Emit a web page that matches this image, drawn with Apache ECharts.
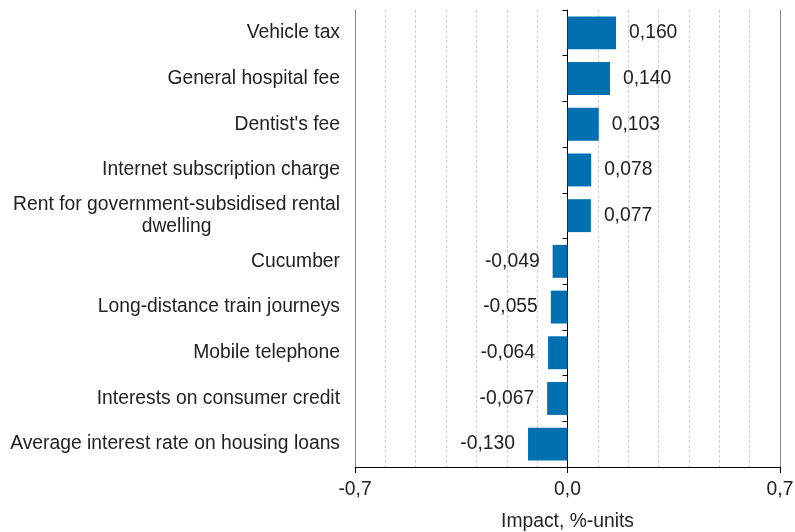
<!DOCTYPE html>
<html>
<head>
<meta charset="utf-8">
<script src="https://cdn.jsdelivr.net/npm/echarts@6/dist/echarts.min.js"></script>
<style>
  html, body { margin: 0; padding: 0; background: #fff; }
  #chart { width: 795px; height: 532px; }
</style>
</head>
<body>
<div id="chart"></div>
<script>
var categories = [
    'Vehicle tax',
    'General hospital fee',
    "Dentist's fee",
    'Internet subscription charge',
    'Rent for government-subsidised rental\ndwelling',
    'Cucumber',
    'Long-distance train journeys',
    'Mobile telephone',
    'Interests on consumer credit',
    'Average interest rate on housing loans'
];
var impact = [0.160, 0.140, 0.103, 0.078, 0.077, -0.049, -0.055, -0.064, -0.067, -0.130];
var xMin = -0.7;
var xMax = 0.7;
var gridStep = 0.1;
var labelStep = 0.7;

var font = 'Liberation Sans, Arial, sans-serif';
var fontSize = 19.3;

function fmt(v, d) {
    return v.toFixed(d).replace('.', ',');
}

var chart = echarts.init(document.getElementById('chart'));

chart.setOption({
    animation: false,
    grid: { left: 355, right: 15, top: 10, bottom: 65, outerBoundsMode: 'none', containLabel: false },
    xAxis: [{
        // dashed grid only
        type: 'value',
        position: 'bottom',
        min: xMin,
        max: xMax,
        interval: gridStep,
        axisLine: { show: false },
        axisTick: { show: false },
        axisLabel: { show: false },
        splitLine: {
            show: true,
            showMinLine: false,
            showMaxLine: false,
            lineStyle: { color: '#cfcfcf', type: [3, 2], width: 1 }
        }
    }, {
        type: 'value',
        position: 'bottom',
        min: xMin,
        max: xMax,
        interval: labelStep,
        name: 'Impact, %-units',
        nameLocation: 'middle',
        nameGap: 45,
        nameTextStyle: { fontFamily: font, fontSize: fontSize, color: '#222' },
        axisLine: { show: true, onZero: false, lineStyle: { color: '#000', width: 1 } },
        axisTick: { show: true, length: 6, lineStyle: { color: '#000' } },
        axisLabel: {
            margin: 13,
            fontFamily: font,
            fontSize: fontSize,
            color: '#222',
            formatter: function (v) { return fmt(v, 1); }
        },
        splitLine: { show: false }
    }],
    yAxis: [{
        type: 'category',
        data: categories,
        inverse: true,
        position: 'left',
        axisLine: { onZero: false, lineStyle: { color: '#888' } },
        axisTick: { show: false },
        axisLabel: {
            margin: 15,
            fontFamily: font,
            fontSize: fontSize,
            color: '#222',
            lineHeight: 22,
            formatter: function (v) {
                if (v.indexOf('\n') < 0) return v;
                return v.split('\n').map(function (s) { return '{c|' + s + '}'; }).join('\n');
            },
            rich: {
                c: { align: 'center', fontFamily: font, fontSize: fontSize, color: '#222', lineHeight: 22 }
            }
        }
    }, {
        // zero line with category ticks
        type: 'category',
        data: categories,
        inverse: true,
        position: 'left',
        axisLine: { onZero: true, onZeroAxisIndex: 0, lineStyle: { color: '#000' } },
        axisTick: { show: true, inside: false, length: 5, lineStyle: { color: '#000' } },
        axisLabel: { show: false },
        splitLine: { show: false }
    }],
    series: [{
        type: 'bar',
        xAxisIndex: 1,
        yAxisIndex: 0,
        barCategoryGap: '28%',
        itemStyle: { color: '#0070b0' },
        data: impact.map(function (v) {
            return {
                value: v,
                label: { position: v >= 0 ? 'right' : 'left' }
            };
        }),
        label: {
            show: true,
            distance: 13,
            fontFamily: font,
            fontSize: fontSize,
            color: '#222',
            formatter: function (p) { return fmt(p.value, 3); }
        },
        markLine: {
            silent: true,
            symbol: 'none',
            label: { show: false },
            lineStyle: { color: '#888', type: 'solid', width: 1 },
            data: [{ xAxis: xMax }]
        }
    }]
});
</script>
</body>
</html>
